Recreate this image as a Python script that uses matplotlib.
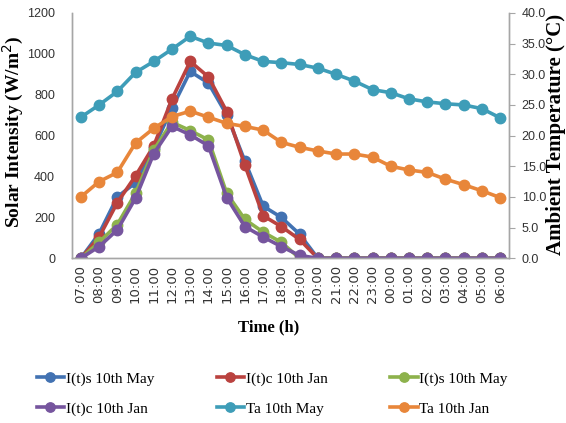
import matplotlib.pyplot as plt

plt.rcParams['font.family'] = ['Liberation Serif', 'DejaVu Serif']

hours = ['07:00', '08:00', '09:00', '10:00', '11:00', '12:00', '13:00', '14:00',
         '15:00', '16:00', '17:00', '18:00', '19:00', '20:00', '21:00', '22:00',
         '23:00', '00:00', '01:00', '02:00', '03:00', '04:00', '05:00', '06:00']

# solar intensity, W/m2
is_may = [0, 120, 300, 370, 540, 735, 914, 857, 702, 475, 255, 200, 118,
          0, 0, 0, 0, 0, 0, 0, 0, 0, 0, 0]
ic_jan = [0, 103, 272, 403, 550, 779, 963, 887, 718, 455, 208, 155, 92,
          0, 0, 0, 0, 0, 0, 0, 0, 0, 0, 0]
is_may2 = [0, 78, 165, 318, 530, 665, 625, 579, 318, 190, 128, 78, 0,
           0, 0, 0, 0, 0, 0, 0, 0, 0, 0, 0]
ic_jan2 = [0, 57, 139, 294, 512, 645, 604, 550, 297, 155, 104, 57, 14,
           0, 0, 0, 0, 0, 0, 0, 0, 0, 0, 0]

# ambient temperature, C
ta_may = [23.0, 25.0, 27.2, 30.3, 32.1, 34.1, 36.2, 35.1, 34.7, 33.2, 32.1, 31.9,
          31.6, 31.0, 30.0, 28.9, 27.5, 27.0, 26.0, 25.5, 25.2, 25.0, 24.4, 22.9]
ta_jan = [10.0, 12.5, 14.0, 18.8, 21.2, 23.1, 24.0, 23.0, 22.0, 21.5, 20.9, 18.9,
          18.1, 17.5, 17.0, 17.0, 16.5, 15.0, 14.4, 14.0, 12.9, 12.0, 11.0, 9.9]

x = list(range(len(hours)))
style = dict(lw=2.6, marker='o', ms=7.5)
tickfont = ['Liberation Sans', 'DejaVu Sans']

fig = plt.figure(figsize=(5.66, 4.23), dpi=100)
ax = fig.add_axes([0.1267, 0.3894, 0.7731, 0.5799])
ax2 = ax.twinx()

l1, = ax.plot(x, is_may, color='#4272B2', label='I(t)s 10th May', **style)
l2, = ax.plot(x, ic_jan, color='#BA423F', label='I(t)c 10th Jan', **style)
l3, = ax.plot(x, is_may2, color='#8DB24C', label='I(t)s 10th May', **style)
l4, = ax.plot(x, ic_jan2, color='#76559E', label='I(t)c 10th Jan', **style)
l5, = ax2.plot(x, ta_may, color='#3E9DB8', label='Ta 10th May', **style)
l6, = ax2.plot(x, ta_jan, color='#E8863A', label='Ta 10th Jan', **style)

ax.set_xlim(-0.5, len(hours) - 0.5)
ax.set_ylim(0, 1200)
ax.set_yticks(range(0, 1201, 200))
ax.set_yticklabels([str(v) for v in range(0, 1201, 200)], family=tickfont, fontsize=9)
ax2.set_ylim(0, 40)
ax2.set_yticks(range(0, 41, 5))
ax2.set_yticklabels(['%.1f' % v for v in range(0, 41, 5)], family=tickfont, fontsize=9)

ax.set_xticks(x)
ax.set_xticklabels(hours, rotation=90, fontsize=9.5, family=['DejaVu Sans'])
ax.tick_params(axis='x', length=0, pad=5, colors='#333333')
ax.tick_params(axis='y', length=0, colors='#333333', pad=12)
ax2.tick_params(axis='y', length=4, colors='#333333', pad=5)
for a in (ax, ax2):
    a.spines['top'].set_visible(False)
    for s in ('left', 'right', 'bottom'):
        a.spines[s].set_color('#A6A6A6')
        a.spines[s].set_linewidth(1.0)
ax2.tick_params(axis='y', color='#A6A6A6', labelcolor='#333333')

ax.set_ylabel('Solar Intensity (W/m$^2$)', fontsize=14, fontweight='bold')
ax.yaxis.set_label_coords(-0.104, 0.517)
ax2.set_ylabel('Ambient Temperature (\u00b0C)', fontsize=15, fontweight='bold')
ax2.yaxis.set_label_coords(1.084, 0.503)
ax.set_xlabel('Time (h)', fontsize=12, fontweight='bold')
ax.xaxis.set_label_coords(0.449, -0.25)

handles = [l1, l4, l2, l5, l3, l6]
fig.legend(handles, [h.get_label() for h in handles], ncol=3, loc='upper left',
           bbox_to_anchor=(0.054, 0.135), frameon=False, fontsize=11,
           handlelength=1.8, handletextpad=0.1, columnspacing=4.1,
           labelspacing=1.05, markerscale=0.9, borderaxespad=0)

fig.savefig('out.png', dpi=100)
